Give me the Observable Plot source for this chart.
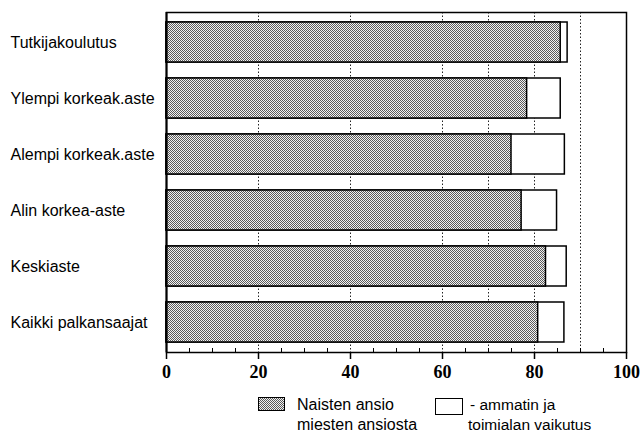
<!DOCTYPE html>
<html><head><meta charset="utf-8">
<script src="https://cdn.jsdelivr.net/npm/d3@7"></script>
<script src="https://cdn.jsdelivr.net/npm/@observablehq/plot@0.6"></script>
<style>
body{margin:0;background:#fff;}
#wrap{position:relative;width:641px;height:436px;font-family:"Liberation Sans",Arial,sans-serif;}
.lg{position:absolute;font-size:16px;line-height:20px;color:#000;white-space:nowrap;}
.sw{position:absolute;border:1.5px solid #000;box-sizing:border-box;}
.gray{background:repeating-conic-gradient(#5a5a5a 0 25%, #f2f2f2 0 50%) 0 0/2px 2px;}
</style></head><body><div id="wrap"></div>
<script>
const categories = ["Tutkijakoulutus","Ylempi korkeak.aste","Alempi korkeak.aste","Alin korkea-aste","Keskiaste","Kaikki palkansaajat"];
const naisten = [85.7, 78.4, 75.0, 77.2, 82.5, 80.8];
const yhteensa = [87.2, 85.7, 86.6, 84.9, 87.0, 86.5];
const xTicks = [0, 20, 40, 60, 80, 100];
const minorTicks = [5, 10, 15, 25, 30, 35, 45, 50, 55, 65, 70, 75, 85, 90, 95];
const gridLines = [20, 40, 60, 70, 80, 90];
const legend1 = ["Naisten ansio", "miesten ansiosta"];
const legend2 = ["- ammatin ja", "toimialan vaikutus"];

const data = categories.map((c, i) => ({cat: c, n: naisten[i], t: yhteensa[i]}));
const PH = "#abcdef";

const plot = Plot.plot({
  width: 641, height: 388,
  marginLeft: 166, marginRight: 15, marginTop: 12, marginBottom: 36,
  style: {fontFamily: "Liberation Sans, Arial, sans-serif", fontSize: "16px", background: "white", color: "black"},
  x: {domain: [0, 100]},
  y: {domain: categories, paddingInner: 0.29, paddingOuter: 0.145},
  marks: [
    Plot.ruleX(gridLines, {stroke: "#222", strokeDasharray: "1.5,2", strokeWidth: 1}),
    Plot.barX(data, {y: "cat", x1: 0, x2: "t", fill: "white", stroke: "black", strokeWidth: 1.5}),
    Plot.barX(data, {y: "cat", x1: 0, x2: "n", fill: PH, stroke: "black", strokeWidth: 1.5}),
    Plot.ruleX(minorTicks, {insetTop: 336, stroke: "black", strokeWidth: 1}),
    Plot.frame({stroke: "black", strokeWidth: 1.5}),
    Plot.ruleX([0], {stroke: "black", strokeWidth: 2}),
    Plot.axisX(xTicks, {tickSize: 7, tickPadding: 6, fontSize: 18, fontFamily: "Liberation Sans Narrow", fontWeight: "bold", strokeWidth: 1.5, label: null}),
    Plot.axisY({tickSize: 0, tickPadding: 156, textAnchor: "start", fontSize: 16, label: null})
  ]
});

const ns = "http://www.w3.org/2000/svg";
const defs = document.createElementNS(ns, "defs");
defs.innerHTML = '<pattern id="dither" width="2" height="2" patternUnits="userSpaceOnUse"><rect width="2" height="2" fill="#f2f2f2"/><rect width="1" height="1" fill="#5a5a5a"/><rect x="1" y="1" width="1" height="1" fill="#5a5a5a"/></pattern>';
plot.insertBefore(defs, plot.firstChild);
plot.querySelectorAll('[fill="' + PH + '"]').forEach(el => el.setAttribute("fill", "url(#dither)"));

const wrap = document.getElementById("wrap");
wrap.appendChild(plot);

function addDiv(cls, style, text) {
  const d = document.createElement("div");
  d.className = cls;
  Object.assign(d.style, style);
  if (text != null) d.textContent = text;
  wrap.appendChild(d);
}
addDiv("sw gray", {left: "258px", top: "397px", width: "27px", height: "14px"});
addDiv("lg", {left: "297px", top: "395px"}, legend1[0]);
addDiv("lg", {left: "297px", top: "415px"}, legend1[1]);
addDiv("sw", {left: "435px", top: "398px", width: "28px", height: "17px", background: "white"});
addDiv("lg", {left: "470px", top: "395px", fontSize: "15.5px"}, legend2[0]);
addDiv("lg", {left: "468px", top: "415px", fontSize: "15.5px"}, legend2[1]);
</script></body></html>
